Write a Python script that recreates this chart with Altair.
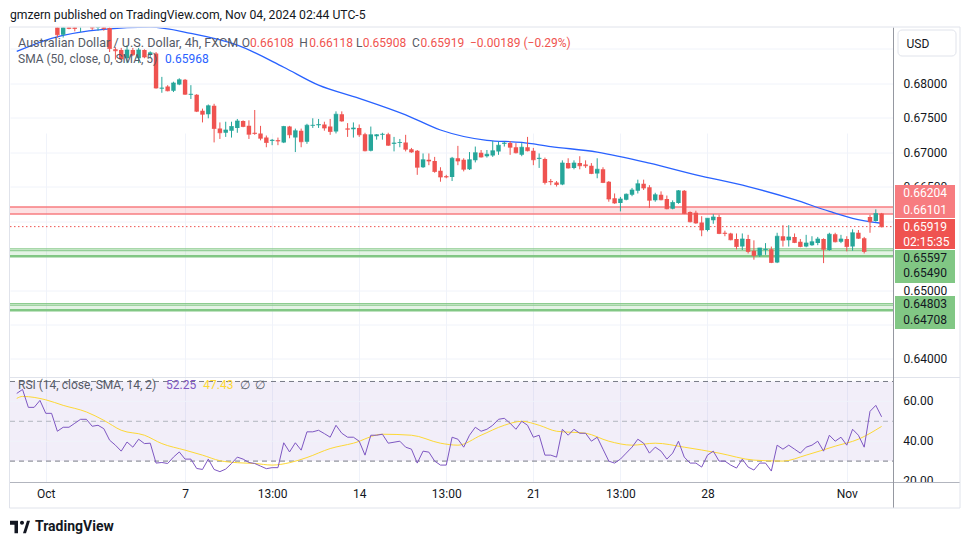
import altair as alt
import pandas as pd

# ---------------- data ----------------
opens = [0.6915, 0.6920, 0.6925, 0.6905, 0.6910, 0.6903, 0.6895, 0.6900, 0.6870, 0.6892,
         0.6890, 0.6883, 0.6892, 0.6898, 0.6880, 0.6890, 0.6880, 0.6849, 0.6848, 0.6836,
         0.6848, 0.6836, 0.6848, 0.6842, 0.6843, 0.6792, 0.6795, 0.6789, 0.6798, 0.6805,
         0.6783, 0.6783, 0.6760, 0.6755, 0.6767, 0.6734, 0.6728, 0.6731, 0.6735, 0.6745,
         0.6738, 0.6728, 0.6727, 0.6721, 0.6716, 0.6717, 0.6714, 0.6737, 0.6721, 0.6731,
         0.6715, 0.6738, 0.6739, 0.6740, 0.6737, 0.6730, 0.6755, 0.6734, 0.6733, 0.6735,
         0.6726, 0.6702, 0.6723, 0.6725, 0.6726, 0.6712, 0.6713, 0.6714, 0.6704, 0.6702,
         0.6678, 0.6689, 0.6687, 0.6673, 0.6665, 0.6664, 0.6691, 0.6689, 0.6675, 0.6688,
         0.6699, 0.6694, 0.6695, 0.6701, 0.6712, 0.6713, 0.6707, 0.6696, 0.6707, 0.6702,
         0.6690, 0.6690, 0.6658, 0.6656, 0.6653, 0.6684, 0.6677, 0.6684, 0.6682, 0.6680,
         0.6669, 0.6675, 0.6657, 0.6633, 0.6626, 0.6631, 0.6638, 0.6644, 0.6654, 0.6649,
         0.6630, 0.6638, 0.6632, 0.6618, 0.6626, 0.6644, 0.6613, 0.6612, 0.6598, 0.6587,
         0.6601, 0.6606, 0.6583, 0.6582, 0.6574, 0.6563, 0.6574, 0.6557, 0.6550, 0.6558,
         0.6559, 0.6540, 0.6578, 0.6572, 0.6577, 0.6570, 0.6563, 0.6565, 0.6568, 0.6574,
         0.6558, 0.6581, 0.6570, 0.6574, 0.6563, 0.6583, 0.6575, 0.6606, 0.6600, 0.66108]
highs = [0.6925, 0.6930, 0.6932, 0.6915, 0.6914, 0.6910, 0.6907, 0.6905, 0.6892, 0.6898,
         0.6896, 0.6900, 0.6905, 0.6903, 0.6893, 0.6895, 0.6886, 0.6852, 0.6851, 0.6855,
         0.6851, 0.6851, 0.6849, 0.6846, 0.6845, 0.6809, 0.6797, 0.6802, 0.6807, 0.6806,
         0.6797, 0.6784, 0.6763, 0.6769, 0.6770, 0.6743, 0.6744, 0.6744, 0.6748, 0.6746,
         0.6746, 0.6761, 0.6738, 0.6724, 0.6719, 0.6721, 0.6738, 0.6738, 0.6734, 0.6734,
         0.6741, 0.6749, 0.6748, 0.6744, 0.6748, 0.6759, 0.6759, 0.6742, 0.6743, 0.6740,
         0.6728, 0.6737, 0.6726, 0.6728, 0.6728, 0.6722, 0.6719, 0.6725, 0.6706, 0.6703,
         0.6698, 0.6698, 0.6693, 0.6678, 0.6667, 0.6693, 0.6709, 0.6691, 0.6700, 0.6708,
         0.6703, 0.6703, 0.6716, 0.6715, 0.6715, 0.6716, 0.6713, 0.6713, 0.6722, 0.6706,
         0.6698, 0.6692, 0.6661, 0.6658, 0.6688, 0.6691, 0.6688, 0.6694, 0.6688, 0.6684,
         0.6691, 0.6678, 0.6658, 0.6640, 0.6635, 0.6640, 0.6648, 0.6660, 0.6660, 0.6652,
         0.6641, 0.6643, 0.6637, 0.6630, 0.6645, 0.6645, 0.6614, 0.6615, 0.6607, 0.6604,
         0.6610, 0.6609, 0.6586, 0.6583, 0.6582, 0.6582, 0.6580, 0.6572, 0.6561, 0.6568,
         0.6563, 0.6583, 0.6594, 0.6594, 0.6582, 0.6574, 0.6580, 0.6578, 0.6577, 0.6575,
         0.6583, 0.6583, 0.6580, 0.6578, 0.6588, 0.6587, 0.6577, 0.6609, 0.6617, 0.66118]
lows = [0.6905, 0.6910, 0.6898, 0.6898, 0.6899, 0.6890, 0.6890, 0.6866, 0.6866, 0.6878,
        0.6875, 0.6874, 0.6885, 0.6877, 0.6876, 0.6876, 0.6845, 0.6834, 0.6834, 0.6829,
        0.6839, 0.6829, 0.6836, 0.6838, 0.6792, 0.6786, 0.6788, 0.6787, 0.6797, 0.6783,
        0.6777, 0.6758, 0.6743, 0.6749, 0.6714, 0.6719, 0.6722, 0.6721, 0.6728, 0.6736,
        0.6719, 0.6725, 0.6717, 0.6707, 0.6710, 0.6710, 0.6713, 0.6720, 0.6700, 0.6707,
        0.6712, 0.6735, 0.6735, 0.6731, 0.6725, 0.6727, 0.6744, 0.6722, 0.6721, 0.6722,
        0.6701, 0.6701, 0.6718, 0.6718, 0.6709, 0.6701, 0.6707, 0.6701, 0.6699, 0.6667,
        0.6677, 0.6681, 0.6670, 0.6657, 0.6662, 0.6658, 0.6681, 0.6672, 0.6674, 0.6685,
        0.6692, 0.6692, 0.6693, 0.6696, 0.6708, 0.6696, 0.6698, 0.6694, 0.6701, 0.6681,
        0.6677, 0.6653, 0.6652, 0.6650, 0.6652, 0.6676, 0.6675, 0.6675, 0.6677, 0.6668,
        0.6662, 0.6655, 0.6628, 0.6625, 0.6614, 0.6630, 0.6636, 0.6640, 0.6645, 0.6619,
        0.6628, 0.6630, 0.6617, 0.6617, 0.6625, 0.6610, 0.6598, 0.6596, 0.6578, 0.6585,
        0.6596, 0.6581, 0.6578, 0.6572, 0.6559, 0.6558, 0.6553, 0.6544, 0.6548, 0.6551,
        0.6539, 0.6539, 0.6563, 0.6563, 0.6568, 0.6562, 0.6562, 0.6564, 0.6565, 0.6539,
        0.6557, 0.6569, 0.6568, 0.6556, 0.6557, 0.6574, 0.6553, 0.6583, 0.6599, 0.65908]
closes = [0.6920, 0.6925, 0.6905, 0.6910, 0.6903, 0.6895, 0.6900, 0.6870, 0.6888, 0.6879,
          0.6879, 0.6893, 0.6900, 0.6880, 0.6889, 0.6879, 0.6850, 0.6847, 0.6835, 0.6848,
          0.6841, 0.6848, 0.6838, 0.6844, 0.6793, 0.6793, 0.6789, 0.6800, 0.6805, 0.6784,
          0.6784, 0.6759, 0.6755, 0.6767, 0.6734, 0.6728, 0.6732, 0.6737, 0.6745, 0.6737,
          0.6726, 0.6727, 0.6720, 0.6714, 0.6717, 0.6716, 0.6737, 0.6725, 0.6731, 0.6715,
          0.6739, 0.6739, 0.6740, 0.6735, 0.6730, 0.6755, 0.6745, 0.6733, 0.6735, 0.6725,
          0.6702, 0.6725, 0.6725, 0.6726, 0.6710, 0.6713, 0.6714, 0.6704, 0.6700, 0.6678,
          0.6689, 0.6687, 0.6672, 0.6664, 0.6664, 0.6691, 0.6687, 0.6675, 0.6689, 0.6699,
          0.6693, 0.6697, 0.6702, 0.6710, 0.6713, 0.6707, 0.6699, 0.6707, 0.6702, 0.6689,
          0.6691, 0.6656, 0.6657, 0.6653, 0.6684, 0.6677, 0.6684, 0.6680, 0.6680, 0.6669,
          0.6675, 0.6656, 0.6632, 0.6626, 0.6632, 0.6639, 0.6645, 0.6654, 0.6648, 0.6630,
          0.6638, 0.6631, 0.6618, 0.6627, 0.6644, 0.6611, 0.6599, 0.6597, 0.6587, 0.6604,
          0.6606, 0.6582, 0.6582, 0.6573, 0.6563, 0.6574, 0.6556, 0.6550, 0.6561, 0.6559,
          0.6540, 0.6578, 0.6572, 0.6577, 0.6569, 0.6563, 0.6568, 0.6570, 0.6574, 0.6559,
          0.6581, 0.6570, 0.6574, 0.6563, 0.6583, 0.6575, 0.6556, 0.6599, 0.6611, 0.65919]

sma_idx = [0, 6, 15, 23, 30, 38, 46, 52, 59, 67, 73, 81, 87, 92, 100, 109, 117, 126, 134, 140, 144, 149]
sma_val = [0.6846, 0.6865, 0.6878, 0.6881, 0.6872, 0.6855, 0.6823, 0.6797, 0.6778, 0.6754, 0.6732,
           0.6717, 0.6714, 0.6708, 0.6700, 0.6684, 0.6667, 0.6650, 0.6631, 0.6614, 0.6604, 0.65968]

rsi = [64, 66, 57, 57, 60.5, 54, 54, 45, 47, 47,
       49, 51, 51, 47.5, 48, 46.3, 40.5, 38, 35, 39.6,
       37, 41, 38.8, 39, 29, 29.3, 28.8, 32, 34.6, 31,
       31, 26.3, 25.8, 31, 25.8, 24.7, 26, 28.8, 32, 31,
       29.3, 28.8, 27.5, 26.2, 26.7, 26.7, 39.2, 34.6, 39.2, 35.5,
       44.7, 44.7, 45.5, 43.8, 42, 48, 44, 42, 42, 40,
       33, 43, 43, 43.5, 39, 39.5, 40, 37, 36, 29,
       35, 34.5, 30, 28, 28, 42, 41, 37, 43, 47,
       45, 46, 48, 51, 51.5, 49, 46, 50, 48, 42,
       43, 33, 33, 32, 46, 43, 46, 44, 44, 40,
       42, 36, 30, 29, 31, 34, 37, 41, 39, 34,
       37, 35, 31, 34, 40, 32, 29, 29, 27, 33,
       35, 30, 30, 28, 26.5, 31, 27, 25.5, 29, 29,
       25, 38, 36, 38, 36, 34, 37, 38, 40, 35,
       43, 40, 42, 38, 46, 43, 37, 55, 58, 52.25]

rsima_idx = [0, 1, 5, 8, 12, 15, 18, 22, 25, 29, 32, 35, 38, 41, 44, 47, 50, 54, 58, 63, 68,
             73, 76, 80, 84, 87, 90, 93, 98, 102, 106, 110, 115, 121, 127, 132, 136, 141, 145, 149]
rsima_val = [61.5, 62.5, 60.8, 58, 54.7, 50.5, 45.5, 43, 38.8, 35.5, 33, 30.2, 29.2, 28.8, 28, 29.2,
             31.8, 36.3, 39, 43.5, 43, 39, 38, 43, 48, 50, 48, 45, 44, 40, 38, 39, 37, 34, 30.5,
             30, 33, 37.5, 41, 47.43]

tick_idx = [5, 29, 44, 59, 74, 89, 104, 119, 143]
tick_txt = ["Oct", "7", "13:00", "14", "13:00", "21", "13:00", "28", "Nov"]
price_ticks = [0.640, 0.645, 0.650, 0.655, 0.660, 0.665, 0.670, 0.675, 0.680, 0.685]
hidden_price_labels = ["0.64500", "0.65500", "0.66000", "0.68500"]  # covered by boxes in the reference
rsi_ticks = [60, 40, 20]

zone_top = [0.66204, 0.65597, 0.64803]
zone_bot = [0.66101, 0.65490, 0.64708]
zone_col = ["#f23645", "#4caf50", "#4caf50"]
zline_val = [0.66204, 0.66101, 0.65597, 0.65570, 0.65490, 0.64803, 0.64780, 0.64708]
zline_col = ["#f77c80", "#f77c80", "#81c784", "#81c784", "#81c784", "#81c784", "#81c784", "#81c784"]
zline_w = [1.5, 1.5, 1, 1, 2.5, 1, 1, 2.5]
last_price = 0.65919

box_anchor = [0.66204, 0.65919, 0.65597, 0.64803]
box_top = [-22, -7.6, 1.2, -7.6]
box_bot = [11, 22.4, 34.2, 25.4]
box_col = ["#f77c80", "#ef5350", "#81c784", "#81c784"]
lab_val = [0.66204, 0.66101, 0.65919, 0.65919, 0.65597, 0.65490, 0.64803, 0.64708]
lab_txt = ["0.66204", "0.66101", "0.65919", "02:15:35", "0.65597", "0.65490", "0.64803", "0.64708"]
lab_dy = [-13.5, -4, 0.4, 14.9, 9.2, 16.8, 0.4, 9.8]
lab_col = ["white", "white", "white", "white", "#131722", "#131722", "#131722", "#131722"]

# ---------------- styling ----------------
FONT = "Roboto"
W, H = 883, 455
PANE = 349.5
UP, DOWN = "#26a69a", "#ef5350"
GRID = "#f0f3fa"
LEG = "#555a66"
one = pd.DataFrame({"a": [0]})

xs = alt.Scale(domain=[-0.3, 150.1], nice=False, zero=False)
label_expr = " : ".join(f"datum.value == {t} ? '{s}'" for t, s in zip(tick_idx, tick_txt)) + " : ''"
xaxis = alt.Axis(values=tick_idx, labelExpr=label_expr, grid=True, gridColor=GRID, domain=False,
                 ticks=False, labelPadding=6, labelFontSize=12, labelFont=FONT, labelColor="#131722",
                 title=None, labelFlush=False, labelOverlap=False)
X = alt.X("i:Q", scale=xs, axis=xaxis)

hidden_js = "[" + ",".join(f"'{s}'" for s in hidden_price_labels) + "]"
ps = alt.Scale(domain=[0.63739, 0.68806], range=[PANE, 0], nice=False, zero=False)
paxis = alt.Axis(orient="right", values=price_ticks, format=".5f", grid=True, gridColor=GRID,
                 domain=False, ticks=False, labelPadding=10, labelFontSize=12, labelFont=FONT,
                 labelColor="#131722", title=None, labelAlign="left", labelBaseline="middle",
                 labelOverlap=False, labelFlush=False,
                 labelExpr=f"indexof({hidden_js}, datum.label) >= 0 ? '' : datum.label")


def PY(f):
    return alt.Y(f"{f}:Q", scale=ps, axis=paxis)


rs = alt.Scale(domain=[19.25, 71.75], range=[H, 350.5], nice=False, zero=False)


def RY(f):
    return alt.Y(f"{f}:Q", scale=rs, axis=None)


# ---------------- price pane ----------------
cdf = pd.DataFrame({"i": list(range(len(opens))), "open": opens, "high": highs,
                    "low": lows, "close": closes})
cdf["dir"] = ["up" if c >= o else "down" for o, c in zip(opens, closes)]
ccol = alt.Color("dir:N", scale=alt.Scale(domain=["up", "down"], range=[UP, DOWN]), legend=None)

zdf = pd.DataFrame({"top": zone_top, "bot": zone_bot, "col": zone_col})
zones = alt.Chart(zdf).mark_rect(opacity=0.15).encode(
    x=alt.value(0), x2=alt.value(W), y=PY("top"), y2="bot",
    color=alt.Color("col:N", scale=None))
zldf = pd.DataFrame({"v": zline_val, "col": zline_col, "w": zline_w})
zlines = alt.Chart(zldf).mark_rule().encode(
    x=alt.value(0), x2=alt.value(W), y=PY("v"),
    color=alt.Color("col:N", scale=None), strokeWidth=alt.StrokeWidth("w:Q", scale=None))
lastline = alt.Chart(pd.DataFrame({"v": [last_price]})).mark_rule(
    color="#ef5350", strokeDash=[1.5, 2.5], strokeWidth=1).encode(
    x=alt.value(0), x2=alt.value(W), y=PY("v"))
sma = alt.Chart(pd.DataFrame({"i": sma_idx, "v": sma_val})).mark_line(
    color="#2962ff", strokeWidth=1.3, interpolate="monotone", clip=True).encode(x=X, y=PY("v"))
wicks = alt.Chart(cdf).mark_rule(strokeWidth=1, clip=True).encode(
    x=X, y=PY("low"), y2="high", color=ccol)
bodies = alt.Chart(cdf).mark_bar(size=4.4, clip=True).encode(
    x=X, y=PY("open"), y2="close", color=ccol)
dojis = alt.Chart(cdf).mark_tick(orient="horizontal", size=4.4, thickness=1, clip=True).encode(
    x=X, y=PY("close"), color=ccol)

price_layers = [zones, zlines, lastline, sma, wicks, bodies, dojis]

# price label boxes on the right scale
for a, t, b, c in zip(box_anchor, box_top, box_bot, box_col):
    price_layers.append(
        alt.Chart(pd.DataFrame({"v": [a]})).mark_rect(color=c, yOffset=t, y2Offset=b).encode(
            x=alt.value(885), x2=alt.value(945), y=PY("v"), y2="v"))
for v, t, d, c in zip(lab_val, lab_txt, lab_dy, lab_col):
    price_layers.append(
        alt.Chart(pd.DataFrame({"v": [v]})).mark_text(
            text=t, dy=d, align="left", baseline="middle", font=FONT, fontSize=12, color=c).encode(
            x=alt.value(893.3), y=PY("v")))

price = alt.layer(*price_layers)

# ---------------- RSI pane ----------------
band = alt.Chart(pd.DataFrame({"a": [70], "b": [30]})).mark_rect(color="#7e57c2", opacity=0.1).encode(
    x=alt.value(0), x2=alt.value(W), y=RY("a"), y2="b")
rgrid = alt.Chart(pd.DataFrame({"v": [60, 40]})).mark_rule(color=GRID, strokeWidth=1).encode(
    x=alt.value(0), x2=alt.value(W), y=RY("v"))
rdash_dark = alt.Chart(pd.DataFrame({"v": [70, 30]})).mark_rule(
    color="#787b86", strokeDash=[5, 4], strokeWidth=1).encode(x=alt.value(0), x2=alt.value(W), y=RY("v"))
rdash_mid = alt.Chart(pd.DataFrame({"v": [50]})).mark_rule(
    color="#b2b5be", strokeDash=[5, 4], strokeWidth=1).encode(x=alt.value(0), x2=alt.value(W), y=RY("v"))
rsima = alt.Chart(pd.DataFrame({"i": rsima_idx, "v": rsima_val})).mark_line(
    color="#fdd835", strokeWidth=1, interpolate="monotone").encode(x=X, y=RY("v"))
rsiline = alt.Chart(pd.DataFrame({"i": list(range(len(rsi))), "v": rsi})).mark_line(
    color="#7e57c2", strokeWidth=1).encode(x=X, y=RY("v"))
rlabels = alt.Chart(pd.DataFrame({"v": rsi_ticks, "t": [f"{v:.2f}" for v in rsi_ticks]})).mark_text(
    align="left", baseline="middle", font=FONT, fontSize=12, color="#131722").encode(
    x=alt.value(893.3), y=RY("v"), text="t:N")
rsi_pane = alt.layer(band, rgrid, rdash_dark, rdash_mid, rsima, rsiline, rlabels)


# ---------------- decorations ----------------
def txt(s, x, y, color=LEG, size=12, weight="normal", align="left"):
    return alt.Chart(one).mark_text(text=s, align=align, baseline="middle", font=FONT,
                                    fontSize=size, fontWeight=weight, color=color).encode(
        x=alt.value(x), y=alt.value(y))


def hline(x1, x2, y, color, w=1):
    return alt.Chart(one).mark_rule(color=color, strokeWidth=w).encode(
        x=alt.value(x1), x2=alt.value(x2), y=alt.value(y))


def vline(x, y1, y2, color, w=1):
    return alt.Chart(one).mark_rule(color=color, strokeWidth=w).encode(
        x=alt.value(x), y=alt.value(y1), y2=alt.value(y2))


RED = "#ef5350"
deco = [
    txt("Australian Dollar / U.S. Dollar, 4h, FXCM", 8, 15.5, size=12.6),
    txt("O", 231.7, 15.5), txt("0.66108", 240, 15.5, RED),
    txt("H", 289.3, 15.5), txt("0.66118", 299.3, 15.5, RED),
    txt("L", 346, 15.5), txt("0.65908", 352.7, 15.5, RED),
    txt("C", 402, 15.5), txt("0.65919", 410.5, 15.5, RED),
    txt("\u22120.00189 (\u22120.29%)", 460, 15.5, RED),
    txt("SMA (50, close, 0, SMA, 5)", 8, 31.5), txt("0.65968", 155, 31.5, "#2962ff"),
    txt("RSI (14, close, SMA, 14, 2)", 8, 357.5), txt("52.25", 156, 357.5, "#7e57c2"),
    txt("47.43", 193.3, 357.5, "#fdd835"), txt("\u2205", 230, 357.5), txt("\u2205", 245, 357.5),
    txt("gmzern published on TradingView.com, Nov 04, 2024 02:44 UTC-5", 0, -12.5, "#131722", 12.2),
    txt("TradingView", 25, 499.5, "#131722", 14, "bold"),
    alt.Chart(one).mark_point(
        shape="M-1,-0.62H-0.2V0.62H-0.55V-0.22H-1Z M0,-0.42A0.2,0.2 0 1,0 0.4,-0.42A0.2,0.2 0 1,0 0,-0.42Z M0.3,0.62L0.7,-0.62H1L0.6,0.62Z",
        filled=True, color="#131722", size=400, opacity=1, strokeWidth=0).encode(
        x=alt.value(10), y=alt.value(499.5)),
    # cover under the time-axis row in the price scale column
    alt.Chart(one).mark_rect(color="white").encode(
        x=alt.value(884), x2=alt.value(949.5), y=alt.value(455.5), y2=alt.value(480)),
    hline(0, 950, 350, "#e0e3eb"),
    hline(-0.5, 950, 455, "#b2b5be"),
    vline(883.5, 0, 480.5, "#9598a1"),
    alt.Chart(one).mark_rect(fill=None, stroke="#e0e3eb", strokeWidth=1).encode(
        x=alt.value(-0.5), x2=alt.value(950), y=alt.value(-0.5), y2=alt.value(480.5)),
    alt.Chart(one).mark_rect(fill="white", stroke="#e0e3eb", strokeWidth=1, cornerRadius=4).encode(
        x=alt.value(888), x2=alt.value(946), y=alt.value(2.5), y2=alt.value(28.5)),
    txt("USD", 896.5, 16, "#131722", 12),
]

chart = alt.layer(price, rsi_pane, *deco).resolve_scale(y="independent").properties(
    width=W, height=H,
    autosize=alt.AutoSizeParams(type="none"),
    padding={"left": 2, "top": 19.5, "right": 69, "bottom": 54.5},
    background="white",
).configure_view(stroke=None)

chart.save("out.html", embed_options={"renderer": "svg", "actions": False})
